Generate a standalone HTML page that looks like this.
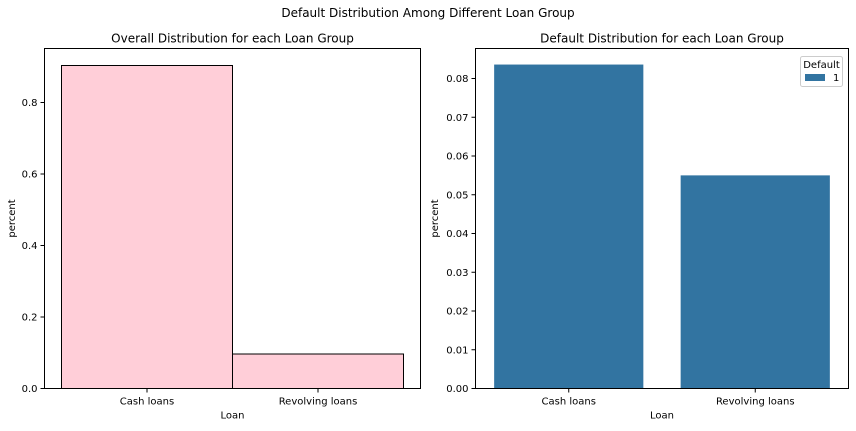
<!DOCTYPE html>
<html><head><meta charset="utf-8"><style>
body{margin:0;background:#fff;font-family:"Liberation Sans","DejaVu Sans",sans-serif}
svg text{font-family:"DejaVu Sans","Liberation Sans",sans-serif;fill:#000}
</style></head><body>
<svg id="c" width="856" height="426" xmlns="http://www.w3.org/2000/svg">
<text x="428" y="17" font-size="12" text-anchor="middle">Default Distribution Among Different Loan Group</text>
<g id="L"></g><g id="R"></g>
</svg>
<script>
const categories = ["Cash loans", "Revolving loans"];
const overallValues = [0.9035, 0.0965];
const defaultValues = [0.0836, 0.0550];
const leftTicks = [0, 0.2, 0.4, 0.6, 0.8];
const rightTicks = [0, 0.01, 0.02, 0.03, 0.04, 0.05, 0.06, 0.07, 0.08];
const NS = "http://www.w3.org/2000/svg";
function mk(p, t, a, txt){const e=document.createElementNS(NS,t);for(const k in a)e.setAttribute(k,a[k]);if(txt!==undefined)e.textContent=txt;p.appendChild(e);return e;}
function panel(g, x0, x1, y0, y1, ymax, ticks, vals, title, opts){
  const ys = v => y1 - (v/ymax)*(y1-y0);
  const n = categories.length, bw = (x1-x0-2*opts.pad)/n;
  vals.forEach((v,i)=>{
    const bx = x0+opts.pad+i*bw + bw*(1-opts.frac)/2, w = bw*opts.frac;
    const r = mk(g,'rect',{x:bx,y:ys(v),width:w,height:y1-ys(v),fill:opts.fill,stroke:opts.stroke,'stroke-width':1});
    
    
    const cx = x0+opts.pad+(i+0.5)*bw;
    mk(g,'line',{x1:cx,x2:cx,y1:y1,y2:y1+4,stroke:'#000'});
    const t = mk(g,'text',{x:cx,y:y1+16,'font-size':10,'text-anchor':'middle'},categories[i]);
    
    
  });
  ticks.forEach(v=>{
    const y=ys(v);
    mk(g,'line',{x1:x0-4,x2:x0,y1:y,y2:y,stroke:'#000'});
    const t=mk(g,'text',{x:x0-7,y:y+3.5,'font-size':10,'text-anchor':'end'},opts.fmt(v));
    
    
  });
  const f=mk(g,'rect',{x:x0,y:y0,width:x1-x0,height:y1-y0,fill:'none',stroke:'#000','stroke-width':1});
  
  
  const tt=mk(g,'text',{x:(x0+x1)/2,y:y0-6,'font-size':12,'text-anchor':'middle'},title);
  
  
  const xl=mk(g,'text',{x:(x0+x1)/2,y:y1+30,'font-size':10,'text-anchor':'middle'},'Loan');
  
  
  const yl=mk(g,'text',{x:0,y:0,'font-size':10,'text-anchor':'middle',transform:`translate(${opts.ylx},${(y0+y1)/2}) rotate(-90)`},'percent');
  
  
}
const L=document.getElementById('L'), R=document.getElementById('R');
panel(L,44.5,420.5,48.5,388.5,340/357.5,leftTicks,overallValues,'Overall Distribution for each Loan Group',
  {pad:17,frac:1,fill:'#ffced8',stroke:'#000',fmt:v=>v===0?'0.0':v.toFixed(1),ylx:15});
panel(R,475.5,848.5,48.5,388.5,340/3875,rightTicks,defaultValues,'Default Distribution for each Loan Group',
  {pad:0,frac:0.8,fill:'#3274a1',stroke:'none',fmt:v=>v.toFixed(2),ylx:438});
const lg=mk(R,'g',{});


mk(lg,'rect',{x:800.5,y:56.5,width:42,height:30,rx:2,fill:'#fff',stroke:'#ccc'});
mk(lg,'text',{x:821.5,y:68,'font-size':10,'text-anchor':'middle'},'Default');
mk(lg,'rect',{x:805,y:74,width:20,height:7,fill:'#3274a1'});
mk(lg,'text',{x:833,y:81,'font-size':10},'1');
</script>
</body></html>
